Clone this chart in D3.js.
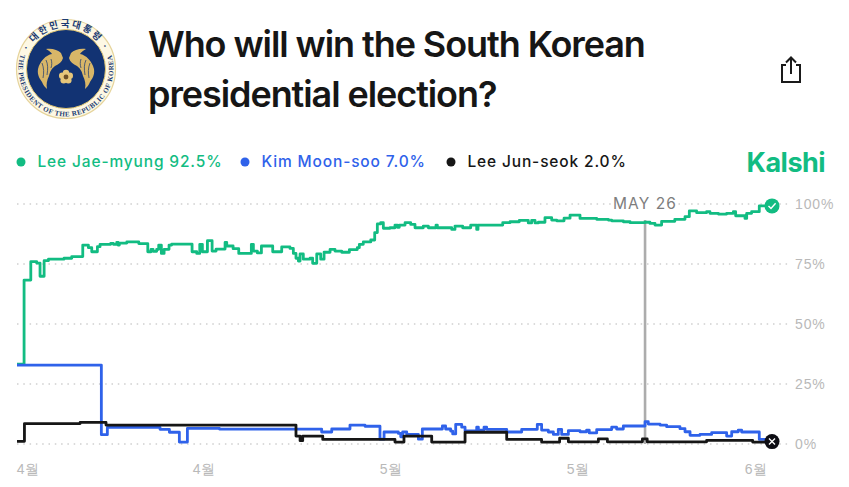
<!DOCTYPE html>
<html>
<head>
<meta charset="utf-8">
<script src="https://cdn.jsdelivr.net/npm/d3@7"></script>
<style>
	html, body { margin: 0; padding: 0; background: #fff; }
	svg { display: block; font-family: Inter, "Noto Sans CJK KR", sans-serif; }
	.title { font-size: 36px; font-weight: 600; fill: #161616; letter-spacing: -1.08px; }
	.legend text { font-size: 15.5px; font-weight: 500; letter-spacing: 0.85px; }
	.axis text { font-size: 14px; fill: #b9b9b9; letter-spacing: 0.9px; }
	.axis .domain { display: none; }
	.grid line { stroke: #cfcfcf; stroke-width: 1.5; stroke-dasharray: 1.5 4.8; }
	.line { fill: none; stroke-width: 2.8; stroke-linejoin: round; }
</style>
</head>
<body>
<svg id="chart" width="849" height="487"></svg>
<script>
var W = 849, H = 487;
var svg = d3.select("#chart");

// x is days since 1 Apr, y is percent. each point holds until the next one
var lee = [[-0.92,33.3],[-0.33,68.3],[0.23,76],[0.72,75.4],[1,69.9],[1.34,76.4],[1.7,77],[3,77.4],[3.64,78.1],[4.56,82.9],[5.03,81.8],[5.31,80.1],[5.78,82.2],[6,83.2],[6.89,83.6],[7.11,83.2],[7.39,84],[7.5,82.9],[7.61,83.7],[8.23,84.2],[9.23,83.5],[9.98,80.1],[10.25,81.1],[10.42,80.3],[10.72,81.1],[10.89,82.9],[11.11,79.4],[11.34,81.1],[11.75,82.9],[11.97,83.3],[13.67,80.1],[14.06,79.4],[14.31,83.2],[14.53,80.1],[14.95,84.7],[15.34,80.4],[15.67,81.2],[16.42,84],[16.56,82.5],[17.09,81.4],[17.56,79.4],[18.61,83.2],[18.78,80.4],[19.11,79.6],[19.45,82.5],[20.39,80.1],[21.14,82.1],
	[21.83,81.5],[22.11,79.4],[22.33,77.4],[22.53,76.2],[22.67,79.2],[22.94,77],[23.5,77.4],[23.72,75.3],[24.06,79.2],[24.39,77],[24.67,79.9],[25.17,81.1],[25.58,80.4],[26.14,79.9],[26.78,81],[27.44,81.8],[27.61,83.2],[27.94,84.2],[28.56,85],[28.89,88.1],[29.11,91.7],[29.39,92.2],[29.61,89.9],[30.17,90.1],[30.58,91.2],[30.78,90.3],[30.94,91.2],[31.42,92.2],[31.89,91.5],[32.25,90.1],[32.94,90.8],[33.36,90.1],[34,91.2],[34.11,90.1],[35.31,89.4],[35.58,90.8],[36.22,90.1],[36.89,91.2],[37.39,89.4],[37.5,91.2],[39.56,92.2],[40.17,92.6],[40.94,93.2],[41.69,92.1],[41.97,93.2],[42.25,92.1],[42.53,92.4],[43.08,94.3],[43.64,93.3],[44.06,93],[44.67,94.1],
	[45.17,95.4],[46,94],[47.39,93.6],[48.36,93.3],[48.64,93],[49.61,92.6],[50.17,92.2],[51.42,92.4],[51.83,91.9],[52.25,91.2],[52.8,92.8],[53.9,93.6],[54.75,94.7],[55.11,97.1],[55.72,96.4],[56.55,96.8],[56.83,96.1],[57.53,95.8],[58.22,96.1],[58.78,96.8],[58.97,95.1],[59.75,94],[59.89,96.1],[60.3,96.8],[60.94,99.2],[62,99.2]];

var kim = [[-0.92,32.9],[6.11,3.9],[6.61,6.9],[11,6.1],[11.78,4.9],[12.61,0.8],[13.28,6.5],[15.95,6.2],[24.47,5],[25.31,6.25],[26.83,7.9],[28.08,7.4],[29.33,2],[29.67,5],[30.86,4.4],[31.06,3],[31.22,5],[31.56,4],[32.53,2],[32.86,6.25],[34.53,7.5],[34.8,6.25],[35.22,5.4],[35.39,4.2],[35.64,8.2],[36.14,7],[36.42,5.5],[37.39,7],[37.53,5.8],[38,7],[38.22,6.1],[39.89,5],[41.14,6.1],[42.44,8.2],[42.8,5.8],[43.36,5],[43.78,4],[44.19,6.1],[44.47,4],
	[45.03,5.6],[46,5.1],[46.55,5.8],[46.77,4.6],[47.39,6],[48.64,7],[49.05,6.25],[49.61,7.5],[51.42,9.3],[51.69,8.3],[52.67,7.9],[53.22,7.2],[54.33,6.4],[54.75,5.1],[55.17,3.6],[56,4],[56.97,4.7],[58.22,3.3],[58.64,5.1],[59.19,5.8],[59.47,5],[60.94,1.9],[62,1.9]];

var junseok = [[-0.92,1.1],[-0.3,8.5],[4.34,9],[6.5,7.9],[22.33,3.3],[22.67,1.4],[22.89,3.3],[24.56,1.9],[30.58,0.8],[31.33,3.3],[33.64,0.8],[36.42,4.9],[39.89,1.9],[42.8,0.8],[44.3,2.4],[45.03,0.9],[47.53,2.1],[48.28,0.9],[51.2,2.1],[51.6,0.9],[56.55,1.5],[60.39,0.8],[62,0.8]];

var series = [
	{name: "Lee Jae-myung", label: "92.5%", color: "#12bc82", values: lee, lx: 21},
	{name: "Kim Moon-soo", label: "7.0%", color: "#2f62ea", values: kim, lx: 245},
	{name: "Lee Jun-seok", label: "2.0%", color: "#161616", values: junseok, lx: 451}
];

var monthTicks = {0: "4월", 14.67: "4월", 30.25: "5월", 45.83: "5월", 60.67: "6월"};

var x = d3.scaleLinear().domain([-0.92, 62]).range([17, 772]);
var y = d3.scaleLinear().domain([0, 100]).range([444, 204]);

// seal
var seal = svg.append("g").attr("transform", "translate(66,69)");
seal.append("circle").attr("r", 49.5).attr("fill", "#fdf8e4").attr("stroke", "#e6d49c").attr("stroke-width", 1.2);
seal.append("circle").attr("r", 39.5).attr("fill", "#123373").attr("stroke", "#e3c873").attr("stroke-width", 1);
var defs = svg.append("defs");
defs.append("path").attr("id", "sealTop").attr("d", "M-41,-9 A42,42 0 0 1 41,-9");
defs.append("path").attr("id", "sealBottom").attr("d", "M-44,-18 A47.5,47.5 0 1 0 44,-18");
seal.append("text").attr("font-size", 9.5).attr("font-weight", 700).attr("fill", "#1c3c73").attr("letter-spacing", 2)
	.append("textPath").attr("href", "#sealTop").attr("startOffset", "50%").attr("text-anchor", "middle")
	.text("· 대한민국대통령 ·");
seal.append("text").attr("font-size", 7).attr("font-family", "Liberation Serif").attr("font-weight", 700).attr("fill", "#1c3c73").attr("letter-spacing", 0.45)
	.append("textPath").attr("href", "#sealBottom").attr("startOffset", "50%").attr("text-anchor", "middle")
	.text("THE PRESIDENT OF THE REPUBLIC OF KOREA");

// phoenixes, the right one is the left one flipped
[1, -1].forEach(function(side){
	var bird = seal.append("g").attr("transform", "scale(" + side + ",1)");
	bird.append("path").attr("fill", "#d8b668")
		.attr("d", "M-3,-11 L-5,-16 C-8,-19 -14,-21 -20,-20 C-17,-18 -15,-17 -14,-15 C-20,-14 -26,-8 -28,0 C-29,6 -26,10 -24,13 C-23,16 -21,18 -19,20 C-20,15 -19,11 -17,7 C-16,3 -15,0 -11,-3 C-7,-5 -4,-7 -3,-11 Z");
	bird.append("path").attr("fill", "none").attr("stroke", "#123373").attr("stroke-width", 0.7)
		.attr("d", "M-24,-6 C-22,-1 -22,4 -23,9 M-20,-9 C-18,-5 -18,0 -19,6 M-15,-10 C-14,-7 -14,-4 -15,-1");
});
// flower in the middle
d3.range(5).forEach(function(i){
	var a = i * 2 * Math.PI / 5 - Math.PI / 2;
	seal.append("circle").attr("cx", 4 * Math.cos(a)).attr("cy", 8 + 4 * Math.sin(a)).attr("r", 3.2).attr("fill", "#e6c67a");
});
seal.append("circle").attr("cy", 8).attr("r", 2.4).attr("fill", "#6d4f27");

// title
svg.append("text").attr("class", "title").attr("x", 148).attr("y", 57).text("Who will win the South Korean");
svg.append("text").attr("class", "title").attr("x", 148).attr("y", 107).text("presidential election?");

// share icon
var share = svg.append("g").attr("transform", "translate(791,70)")
	.attr("fill", "none").attr("stroke", "#1a1a1a").attr("stroke-width", 2);
share.append("path").attr("d", "M-5,-5 H-9 V12 H9 V-5 H5");
share.append("path").attr("d", "M0,4 V-12 M-5,-7.5 L0,-12.5 L5,-7.5");

// legend
var legend = svg.append("g").attr("class", "legend");
series.forEach(function(s){
	legend.append("circle").attr("cx", s.lx).attr("cy", 162).attr("r", 4.5).attr("fill", s.color);
	legend.append("text").attr("x", s.lx + 16.5).attr("y", 167).attr("fill", s.color).text(s.name + " " + s.label);
});
svg.append("text").attr("x", 746.5).attr("y", 172).attr("font-size", 27).attr("font-weight", 700)
	.attr("letter-spacing", -0.5).attr("fill", "#12bc82").text("Kalshi");

// grid and axes
svg.append("g").attr("class", "grid").selectAll("line").data([0, 25, 50, 75, 100]).enter().append("line")
	.attr("x1", 17).attr("x2", 791).attr("y1", function(d){ return y(d); }).attr("y2", function(d){ return y(d); });

svg.append("g").attr("class", "axis").attr("transform", "translate(795,0)")
	.call(d3.axisRight(y).tickValues([0, 25, 50, 75, 100]).tickSize(0).tickPadding(0).tickFormat(function(d){ return d + "%"; }));

svg.append("g").attr("class", "axis").attr("transform", "translate(0,464)")
	.call(d3.axisBottom(x).tickValues(Object.keys(monthTicks).map(Number)).tickSize(0).tickPadding(0)
		.tickFormat(function(d){ return monthTicks[d]; }));

// hover marker
var hoverDay = 51.42;
svg.append("rect").attr("x", x(hoverDay) - 33).attr("y", 194).attr("width", 66).attr("height", 18).attr("fill", "#fff");
svg.append("line").attr("x1", x(hoverDay)).attr("x2", x(hoverDay)).attr("y1", 220).attr("y2", y(0))
	.attr("stroke", "#acacac").attr("stroke-width", 2.6);
svg.append("text").attr("x", x(hoverDay)).attr("y", 209).attr("text-anchor", "middle")
	.attr("font-size", 15.5).attr("letter-spacing", 1.1).attr("fill", "#7d7d7d").text("MAY 26");

// lines
var line = d3.line()
	.x(function(d){ return x(d[0]); })
	.y(function(d){ return y(d[1]); })
	.curve(d3.curveStepAfter);

svg.selectAll(".line").data(series).enter().append("path")
	.attr("class", "line")
	.attr("stroke", function(d){ return d.color; })
	.attr("d", function(d){ return line(d.values); });

// end markers
var winner = svg.append("g").attr("transform", "translate(" + x(62) + "," + y(99.2) + ")");
winner.append("circle").attr("r", 7.5).attr("fill", "#12bc82");
winner.append("path").attr("d", "M-3.5,0 L-1,2.6 L3.6,-2.6").attr("fill", "none").attr("stroke", "#fff").attr("stroke-width", 1.4);

var loser = svg.append("g").attr("transform", "translate(" + x(62) + "," + y(1) + ")");
loser.append("circle").attr("r", 7.5).attr("fill", "#0d0d14");
loser.append("path").attr("d", "M-3,-3 L3,3 M3,-3 L-3,3").attr("fill", "none").attr("stroke", "#fff").attr("stroke-width", 1.4);
</script>
</body>
</html>
